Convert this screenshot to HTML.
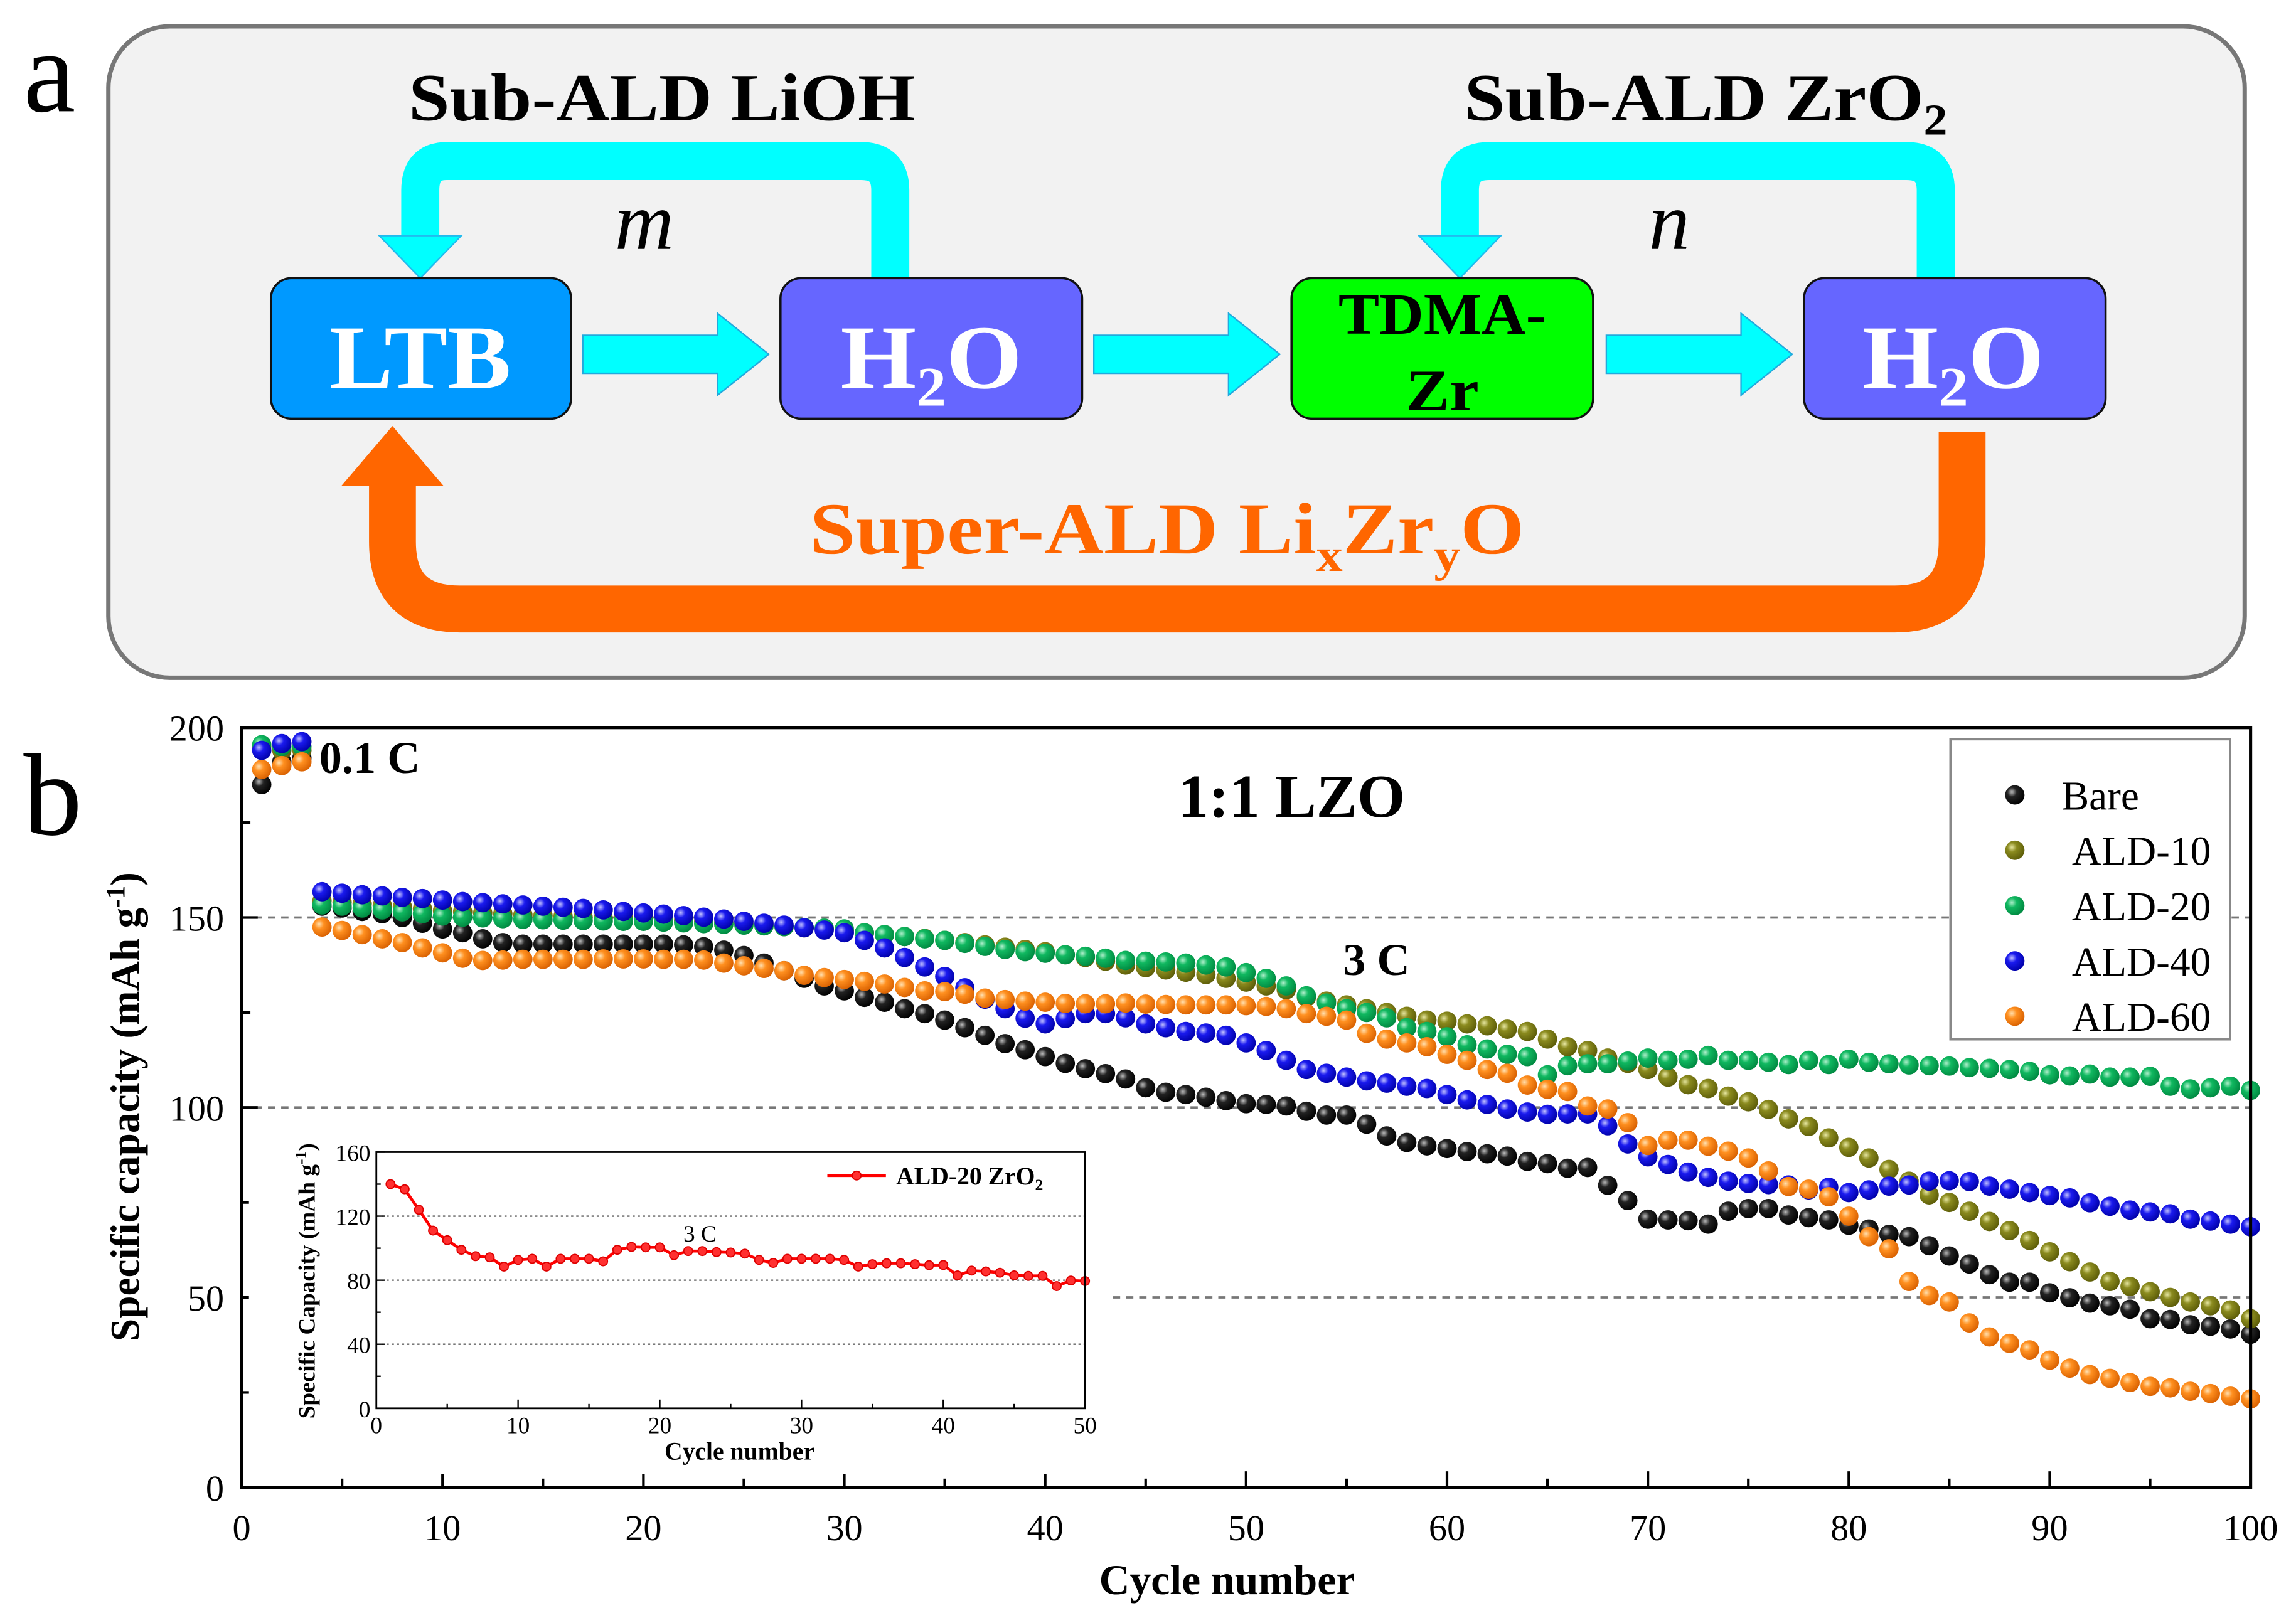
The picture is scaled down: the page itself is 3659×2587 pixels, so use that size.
<!DOCTYPE html>
<html><head><meta charset="utf-8"><style>
html,body{margin:0;padding:0;background:#fff;}
svg, svg text{font-family:"Liberation Serif","Times New Roman",Times,serif;}
</style></head><body>
<svg id="fig" xmlns="http://www.w3.org/2000/svg" width="3659" height="2582" viewBox="0 0 1568 1106.5" font-family="'Liberation Serif', 'Times New Roman', Times, serif">
<defs>
<radialGradient id="gk" cx="0.35" cy="0.35" r="0.7"><stop offset="0" stop-color="#bbb"/><stop offset="0.35" stop-color="#222"/><stop offset="1" stop-color="#000"/></radialGradient>
<radialGradient id="go" cx="0.35" cy="0.35" r="0.7"><stop offset="0" stop-color="#e6e6a0"/><stop offset="0.35" stop-color="#8a8a1e"/><stop offset="1" stop-color="#5c5c08"/></radialGradient>
<radialGradient id="gg" cx="0.35" cy="0.35" r="0.7"><stop offset="0" stop-color="#b0f0cc"/><stop offset="0.35" stop-color="#10b860"/><stop offset="1" stop-color="#008840"/></radialGradient>
<radialGradient id="gb" cx="0.35" cy="0.35" r="0.7"><stop offset="0" stop-color="#c0c0ff"/><stop offset="0.35" stop-color="#1a1aee"/><stop offset="1" stop-color="#0000a8"/></radialGradient>
<radialGradient id="gr" cx="0.35" cy="0.35" r="0.7"><stop offset="0" stop-color="#ffe0b0"/><stop offset="0.35" stop-color="#ff9020"/><stop offset="1" stop-color="#d86000"/></radialGradient>
</defs>

<g>
<text x="16" y="76" font-size="80">a</text>
<rect x="74" y="18" width="1459" height="445" rx="42" fill="#f2f2f2" stroke="#777" stroke-width="3"/>
<path d="M1340 295 L1340 370 Q1340 416 1294 416 L314 416 Q268 416 268 370 L268 330" fill="none" stroke="#ff6600" stroke-width="32"/>
<polygon points="233,332 303,332 268,291" fill="#ff6600"/>
<path d="M608 190 L608 130 Q608 110 588 110 L305 110 Q287 110 287 130 L287 162" fill="none" stroke="#00ffff" stroke-width="26"/>
<polygon points="259,161 315,161 287,190" fill="#00ffff" stroke="#22bbee" stroke-width="1"/>
<path d="M1322 190 L1322 130 Q1322 110 1302 110 L1017 110 Q997 110 997 130 L997 162" fill="none" stroke="#00ffff" stroke-width="26"/>
<polygon points="969,161 1025,161 997,190" fill="#00ffff" stroke="#22bbee" stroke-width="1"/>
<polygon points="398,229 490,229 490,214 525,242 490,270 490,255 398,255" fill="#00ffff" stroke="#22aadd" stroke-width="1"/>
<polygon points="747,229 839,229 839,214 874,242 839,270 839,255 747,255" fill="#00ffff" stroke="#22aadd" stroke-width="1"/>
<polygon points="1097,229 1189,229 1189,214 1224,242 1189,270 1189,255 1097,255" fill="#00ffff" stroke="#22aadd" stroke-width="1"/>
<rect x="185" y="190" width="205" height="96" rx="14" fill="#0099ff" stroke="#111" stroke-width="1.5"/>
<text x="287" y="265" font-size="62" font-weight="bold" fill="#fff" text-anchor="middle" textLength="124" lengthAdjust="spacingAndGlyphs">LTB</text>
<rect x="533" y="190" width="206" height="96" rx="14" fill="#6666ff" stroke="#111" stroke-width="1.5"/>
<text x="574" y="265" font-size="62" font-weight="bold" fill="#fff" textLength="124" lengthAdjust="spacingAndGlyphs">H<tspan font-size="38" dy="12">2</tspan><tspan dy="-12">O</tspan></text>
<rect x="882" y="190" width="206" height="96" rx="14" fill="#00ff00" stroke="#111" stroke-width="1.5"/>
<text x="985" y="228" font-size="40" font-weight="bold" text-anchor="middle" textLength="142" lengthAdjust="spacingAndGlyphs">TDMA-</text>
<text x="985" y="280" font-size="40" font-weight="bold" text-anchor="middle" textLength="50" lengthAdjust="spacingAndGlyphs">Zr</text>
<rect x="1232" y="190" width="206" height="96" rx="14" fill="#6666ff" stroke="#111" stroke-width="1.5"/>
<text x="1272" y="265" font-size="62" font-weight="bold" fill="#fff" textLength="124" lengthAdjust="spacingAndGlyphs">H<tspan font-size="38" dy="12">2</tspan><tspan dy="-12">O</tspan></text>
<text x="452" y="82" font-size="46" font-weight="bold" text-anchor="middle" textLength="346" lengthAdjust="spacingAndGlyphs">Sub-ALD LiOH</text>
<text x="1000" y="82" font-size="46" font-weight="bold" textLength="330" lengthAdjust="spacingAndGlyphs">Sub-ALD ZrO<tspan font-size="30" dy="10">2</tspan></text>
<text x="440" y="170" font-size="56" font-style="italic" text-anchor="middle">m</text>
<text x="1140" y="170" font-size="56" font-style="italic" text-anchor="middle">n</text>
<text x="553" y="378" font-size="50" font-weight="bold" fill="#ff6600" textLength="488" lengthAdjust="spacingAndGlyphs">Super-ALD Li<tspan font-size="32" dy="12">x</tspan><tspan dy="-12">Zr</tspan><tspan font-size="32" dy="12">y</tspan><tspan dy="-12">O</tspan></text>
</g>

<text x="16" y="570" font-size="80">b</text>
<g id="main"></g>
<g id="inset"></g>
</svg>
<script>
const NS='http://www.w3.org/2000/svg';
const cycles=Array.from({length:100},(_,i)=>i+1);
const bare=[185,191,192,153,152.5,151.6,151,150,148.5,147,146,144.4,143.4,143,143,143,143,143,143,143,143,142.8,142.3,141.4,140,138,136,134,132,130.7,129,127.7,126,124.7,123,121,119,116.8,115.2,113.4,111.6,110.2,108.9,107.5,105.2,104,103.4,102.7,101.8,101,100.8,100.4,99,98,98,95.6,92.5,90.8,89.9,89.2,88.4,87.8,87.2,85.8,85.2,84,84.2,79.5,75.5,70.6,70.4,70.2,69.3,72.7,73.4,73.4,71.7,71,70.4,69,68,66.6,66,63.6,60.9,58.8,56,54,54,51.2,49.9,48.5,47.8,46.9,44.4,44.2,42.8,42.4,41.7,40.3];
const ald10=[195,194,194,154.4,154,153.6,153.2,152.8,152.3,151.8,151.5,151.2,151,150.7,150.5,150.3,150,149.8,149.7,149.6,149.4,149.2,149,148.7,148.4,148,147.6,147.3,147,146.6,146,145.5,145,144.5,144,143.4,142.8,142.2,141.6,141,140.2,139.5,138.5,137.5,136.8,136.2,135.6,135,134,133,132,131,129,128,127,126,125,124,123,122.7,122,121.5,120.6,120,118,116,115,113,111.6,110,108,106,105,103,101.5,99.5,97,95,92,89.5,86.7,83.7,80.6,77,75,72.7,70,67.6,65,62,59.4,56.7,54.2,52.9,51.5,50,48.8,47.8,46.7,44.4];
const ald20=[195.5,195,195,153.3,153,152.5,152,151.5,151,150.4,150.1,149.9,149.7,149.5,149.4,149.3,149.2,149.1,149,149,148.8,148.6,148.4,148.2,148,147.8,147.6,147.4,147.2,147,146,145.5,145,144.4,144,143.2,142.4,141.6,141,140.6,140.2,139.8,139.3,138.7,138.5,138.3,138,137.5,137,135.5,134,132,129.4,127.5,126,125,123.6,121,120,118.6,116.5,115.4,114,113.4,108.6,111,111.5,111.5,112.2,113,112.4,112.7,113.7,112.4,112.4,111.9,111.3,112.4,111.3,112.7,111.9,111.5,111.2,111,110.9,110.5,110.3,110,109.5,108.6,108.3,108.8,108,108,108.2,105.6,104.9,105.2,105.6,104.5];
const ald40=[194,195.8,196.3,156.8,156.4,156,155.7,155.3,155,154.6,154.2,153.9,153.6,153.3,153,152.7,152.4,152,151.6,151.2,150.9,150.5,150.1,149.6,149,148.5,148,147.3,146.7,146,144,142,139.5,137,134.5,131.5,128.5,126,123.5,122,123.4,124.7,124.7,123.6,122,121,120,119.6,119,117,115,112.4,110,109,108,107,106.4,105.6,105,103.4,102,100.8,99.6,98.8,98.2,98.3,98.3,95.2,90.4,87,85,83,81.6,80.6,80,79.7,79.6,78.3,79,77.6,78.3,79.3,79.6,80.6,80.7,80.5,79.3,78.5,77.6,76.8,76.2,74.9,74,73,72.5,72,70.6,70.1,69.3,68.6];
const ald60=[189,190,191,147.5,146.6,145.5,144.4,143.4,142,140.7,139.3,138.7,138.8,139,139,139,139,139.1,139.1,139.1,139,139,138.8,138,137.3,136.6,136,134.8,134.2,133.7,133.2,132.5,131.6,130.7,130.5,129.8,128.8,128.4,128,127.7,127.4,127.3,127.3,127.5,127.2,127.1,127,127,127,126.8,126.6,126,124.7,124,123,119.5,118,117,116,114,112.4,110,109,105.9,104.8,104.2,100.4,99.6,96,90,91.4,91.4,89.8,88.5,86.7,83.3,79.2,78.5,76.5,71.4,66,62.8,54.2,50.5,48.8,43.3,39.6,37.9,36.2,33.5,31.4,29.7,28.7,27.6,26.6,26.2,25.3,24.7,24,23.3];
const seriesNames=['Bare','ALD-10','ALD-20','ALD-40','ALD-60'];
const xTicks=[0,10,20,30,40,50,60,70,80,90,100];
const yTicks=[0,50,100,150,200];
const insetCycles=Array.from({length:50},(_,i)=>i+1);
const insetValues=[140,136.8,124,111,105,99,95,94.3,88.5,92.7,93.4,88.5,93.4,93.4,93.4,91.8,99,100.8,100.5,100.5,95.6,98.2,98.2,97.6,97.3,96.6,92.7,90.8,93.4,93.4,93.4,93.4,92.7,88.5,90,90.6,90.6,90,89.4,89.5,83,86,85.5,84.7,83,82.7,82.7,76.3,79.8,79.5];
const insetXTicks=[0,10,20,30,40,50];
const insetYTicks=[0,40,80,120,160];

function mk(tag,attrs,parent){const e=document.createElementNS(NS,tag);for(const k in attrs)e.setAttribute(k,attrs[k]);parent.appendChild(e);return e;}
const X0=165,X1=1537,Y0=1016,Y1=497;
const sx=c=>X0+(c/100)*(X1-X0);
const sy=v=>Y0-(v/200)*(Y0-Y1);
const main=document.getElementById('main');

[50,100,150].forEach(v=>{
  const g=mk('line',{x1:v===50?760:X0,x2:X1,y1:sy(v),y2:sy(v),stroke:'#777','stroke-width':1.6,'stroke-dasharray':'5,4'},main);
  
  
});
const fills=['url(#gk)','url(#go)','url(#gg)','url(#gb)','url(#gr)'];
[bare,ald10,ald20,ald40,ald60].forEach((arr,si)=>{
  const grp=mk('g',{},main);
  
  
  arr.forEach((v,i)=>{
    const c=mk('circle',{cx:sx(cycles[i]),cy:sy(v),r:6.6,fill:fills[si]},grp);
    
    
  });
});
const fr=mk('rect',{x:X0,y:Y1,width:X1-X0,height:Y0-Y1,fill:'none',stroke:'#000','stroke-width':2.2},main);


for(let c=0;c<=100;c+=5){
  const L=c%10===0?11:6;
  const t=mk('line',{x1:sx(c),x2:sx(c),y1:Y0,y2:Y0-L,stroke:'#000','stroke-width':1.8},main);
  
  
}
for(let v=0;v<=200;v+=25){
  const L=v%50===0?11:6;
  const t=mk('line',{x1:X0,x2:X0+L,y1:sy(v),y2:sy(v),stroke:'#000','stroke-width':1.8},main);
  
  
}
xTicks.forEach(c=>{
  const t=mk('text',{x:sx(c),y:1052,'font-size':25,'text-anchor':'middle'},main);t.textContent=c;
  
  
});
yTicks.forEach(v=>{
  const t=mk('text',{x:153,y:sy(v)+9,'font-size':25,'text-anchor':'end'},main);t.textContent=v;
  
  
});
let t=mk('text',{x:838,y:1089,'font-size':29,'font-weight':'bold','text-anchor':'middle'},main);t.textContent='Cycle number';


t=mk('text',{x:0,y:0,'font-size':28,'font-weight':'bold','text-anchor':'middle',transform:'translate(95,756) rotate(-90)'},main);
t.innerHTML='Specific capacity (mAh g<tspan font-size="18" dy="-10">-1</tspan><tspan dy="10">)</tspan>';


t=mk('text',{x:218,y:528,'font-size':31,'font-weight':'bold'},main);t.textContent='0.1 C';


t=mk('text',{x:882,y:558,'font-size':42,'font-weight':'bold','text-anchor':'middle'},main);t.textContent='1:1 LZO';


t=mk('text',{x:940,y:666,'font-size':31,'font-weight':'bold','text-anchor':'middle'},main);t.textContent='3 C';


const lg=mk('g',{},main);


mk('rect',{x:1332,y:505,width:191,height:205,fill:'#fff',stroke:'#888','stroke-width':1.5},lg);
seriesNames.forEach((n,i)=>{
  const y=543+i*37.8;
  const c=mk('circle',{cx:1376,cy:y,r:6.6,fill:fills[i]},lg);
  
  
  const tx=mk('text',{x:i===0?1408:1415,y:y+10,'font-size':28},lg);tx.textContent=n;
  
  
});

const ins=document.getElementById('inset');
const IX0=257,IX1=741,IY0=962,IY1=787;
const ix=c=>IX0+(c/50)*(IX1-IX0);
const iy=v=>IY0-(v/160)*(IY0-IY1);
mk('rect',{x:170,y:762,width:590,height:245,fill:'#fff'},ins);
[40,80,120].forEach(v=>{
  const g=mk('line',{x1:IX0,x2:IX1,y1:iy(v),y2:iy(v),stroke:'#666','stroke-width':1,'stroke-dasharray':'1.5,2'},ins);
  
  
});
const pts=insetValues.map((v,i)=>ix(insetCycles[i])+','+iy(v)).join(' ');
const pl=mk('polyline',{points:pts,fill:'none',stroke:'#ff0000','stroke-width':2},ins);


insetValues.forEach((v,i)=>{
  const c=mk('circle',{cx:ix(insetCycles[i]),cy:iy(v),r:3,fill:'#ff3030',stroke:'#d00','stroke-width':0.8},ins);
  
  
});
const ifr=mk('rect',{x:IX0,y:IY1,width:IX1-IX0,height:IY0-IY1,fill:'none',stroke:'#000','stroke-width':1.2},ins);


for(let c=0;c<=50;c+=5){const L=c%10===0?6:3;mk('line',{x1:ix(c),x2:ix(c),y1:IY0,y2:IY0-L,stroke:'#000','stroke-width':1},ins);}
for(let v=0;v<=160;v+=20){const L=v%40===0?6:3;mk('line',{x1:IX0,x2:IX0+L,y1:iy(v),y2:iy(v),stroke:'#000','stroke-width':1},ins);}
insetXTicks.forEach(c=>{
  const tx=mk('text',{x:ix(c),y:979,'font-size':16,'text-anchor':'middle'},ins);tx.textContent=c;
  
  
});
insetYTicks.forEach(v=>{
  const tx=mk('text',{x:253,y:iy(v)+6,'font-size':16,'text-anchor':'end'},ins);tx.textContent=v;
  
  
});
t=mk('text',{x:505,y:997,'font-size':17,'font-weight':'bold','text-anchor':'middle'},ins);t.textContent='Cycle number';


t=mk('text',{x:0,y:0,'font-size':16,'font-weight':'bold','text-anchor':'middle',transform:'translate(215,875) rotate(-90)'},ins);
t.innerHTML='Specific Capacity (mAh g<tspan font-size="11" dy="-6">-1</tspan><tspan dy="6">)</tspan>';


t=mk('text',{x:478,y:848,'font-size':16,'text-anchor':'middle'},ins);t.textContent='3 C';


const il=mk('line',{x1:565,x2:605,y1:803,y2:803,stroke:'#ff0000','stroke-width':2},ins);


mk('circle',{cx:585,cy:803,r:3,fill:'#ff3030',stroke:'#d00','stroke-width':0.8},ins);
t=mk('text',{x:612,y:809,'font-size':17,'font-weight':'bold'},ins);
t.innerHTML='ALD-20 ZrO<tspan font-size="11" dy="4">2</tspan>';


</script>
</body></html>
